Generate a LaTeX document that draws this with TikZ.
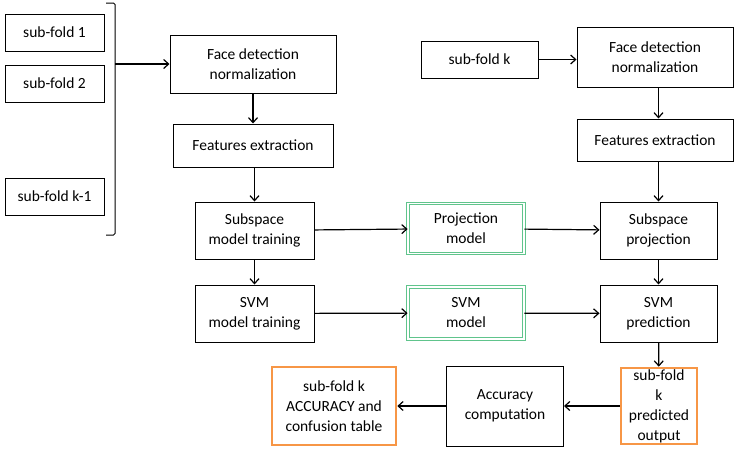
\documentclass[tikz,border=0pt]{standalone}
\usepackage{fontspec}
\setmainfont{Carlito}
\usetikzlibrary{arrows.meta}
\definecolor{boxgreen}{RGB}{96,196,140}
\definecolor{boxorange}{RGB}{247,150,70}
\begin{document}
\begin{tikzpicture}[x=1pt,y=-1pt,
  font=\fontsize{15.5}{20}\selectfont,
  stepbox/.style={draw, line width=1pt, align=center, inner sep=0pt},
  modelbox/.style={stepbox, draw=boxgreen, double=white, double distance=1.6pt, line width=0.8pt},
  resultbox/.style={stepbox, draw=boxorange, line width=2.6pt},
  flow/.style={draw, line width=1.2pt, -{Straight Barb[length=5pt,width=9pt]}}]
\useasboundingbox (0,0) rectangle (734,450);

% training sub-folds
\node[stepbox, minimum width=99pt, minimum height=37pt] (sf1) at (54.5,32.5) {sub-fold 1};
\node[stepbox, minimum width=99pt, minimum height=37pt] (sf2) at (54.5,83.5) {sub-fold 2};
\node[stepbox, minimum width=99pt, minimum height=37pt] (sfk1) at (54.5,196.5) {sub-fold k-1};
\draw[line width=1pt, rounded corners=1.5pt] (106,3) -- (115,3) -- (115,235) -- (106,235);
\coordinate (br) at (115,64);

% training branch
\node[stepbox, minimum width=166pt, minimum height=58pt] (fd1) at (253,64) {Face detection\\normalization};
\node[stepbox, minimum width=160pt, minimum height=43pt] (fe1) at (253,145.5) {Features extraction};
\node[stepbox, minimum width=119pt, minimum height=57pt] (smt) at (254.5,230.5) {Subspace\\model training};
\node[stepbox, minimum width=119pt, minimum height=57pt] (svt) at (254.5,313.5) {SVM\\model training};

% models
\node[modelbox, minimum width=116pt, minimum height=50pt] (pm) at (466,228.5) {Projection\\model};
\node[modelbox, minimum width=116pt, minimum height=52pt] (svm) at (466,313) {SVM\\model};

% test branch
\node[stepbox, minimum width=117pt, minimum height=37pt] (sfk) at (479.5,59.5) {sub-fold k};
\node[stepbox, minimum width=156pt, minimum height=60pt] (fd2) at (655,57) {Face detection\\normalization};
\node[stepbox, minimum width=156pt, minimum height=42pt] (fe2) at (655,140) {Features extraction};
\node[stepbox, minimum width=117pt, minimum height=57pt] (sp) at (658.5,230.5) {Subspace\\projection};
\node[stepbox, minimum width=117pt, minimum height=57pt] (svp) at (658.5,313.5) {SVM\\prediction};

% evaluation
\node[resultbox, minimum width=76pt, minimum height=76pt] (po) at (659,406) {sub-fold\\k\\predicted\\output};
\node[stepbox, minimum width=117pt, minimum height=80pt] (ac) at (505,406) {Accuracy\\computation};
\node[resultbox, minimum width=124pt, minimum height=78pt] (acc) at (334,406) {sub-fold k\\ACCURACY and\\confusion table};

% connectors
\draw[flow] (br) -- (fd1.west);
\draw[flow] (fd1) -- (fe1);
\draw[flow] (fe1.south -| smt) -- (smt);
\draw[flow] (smt) -- (svt);
\draw[flow] (smt) -- (pm);
\draw[flow] (pm) -- (sp);
\draw[flow] (svt) -- (svm);
\draw[flow] (svm) -- (svp);
\draw[flow] (sfk) -- (sfk -| fd2.west);
\draw[flow] (fd2.south -| sp) -- (fe2.north -| sp);
\draw[flow] (fe2.south -| sp) -- (sp);
\draw[flow] (sp) -- (svp);
\draw[flow] (svp) -- (po);
\draw[flow] (po) -- (ac);
\draw[flow] (ac) -- (acc);
\end{tikzpicture}
\end{document}
